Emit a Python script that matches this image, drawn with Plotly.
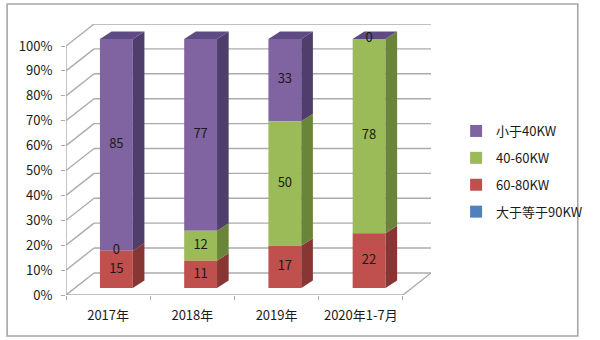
import plotly.graph_objects as go

# ---- data -------------------------------------------------------------
categories = ["2017年", "2018年", "2019年", "2020年1-7月"]
under_40kw = [85, 77, 33, 0]
kw_40_60 = [0, 12, 50, 78]
kw_60_80 = [15, 11, 17, 22]
over_90kw = [0, 0, 0, 0]
pct_ticks = list(range(0, 101, 10))

# series from the bottom of the stack to the top: name, values, front/side/top colours, labelled
stack = [
    ("大于等于90KW", over_90kw, "#4F81BD", "#3A6090", "#44709F", False),
    ("60-80KW", kw_60_80, "#C0504D", "#883634", "#A24341", True),
    ("40-60KW", kw_40_60, "#9BBB59", "#6A853A", "#7F9C45", True),
    ("小于40KW", under_40kw, "#8064A2", "#4F3D6B", "#5E4A85", True),
]

# ---- oblique projection, in axis units ---------------------------------
WALL_DX, WALL_DY = 0.333, 8.85      # front plane -> back wall
FACE_DX, FACE_DY = 0.098, 2.8       # front plane -> bar front face
DEPTH_DX, DEPTH_DY = 0.138, 3.0     # bar front face -> bar back face
BAR_W = 0.39
X0, X1 = -0.5, len(categories) - 0.5

GRID = "#ABABAB"
TEXT = "#1A1A1A"
FONT = "Noto Sans CJK SC"

fig = go.Figure()

# walls: gridlines run across the left wall and along the back wall
shapes = []
for v in pct_ticks:
    shapes.append(dict(type="line", x0=X0, y0=v, x1=X0 + WALL_DX, y1=v + WALL_DY))
    shapes.append(dict(type="line", x0=X0 + WALL_DX, y0=v + WALL_DY, x1=X1 + WALL_DX, y1=v + WALL_DY))
# floor edges and the value axis line
shapes.append(dict(type="line", x0=X0, y0=0, x1=X1, y1=0))
shapes.append(dict(type="line", x0=X1, y0=0, x1=X1 + WALL_DX, y1=WALL_DY))
shapes.append(dict(type="line", x0=X0, y0=0, x1=X0, y1=100))
for s in shapes:
    s.update(xref="x", yref="y", layer="below", line=dict(color=GRID, width=1.4))

# outer frame of the chart
shapes.append(dict(type="rect", xref="paper", yref="paper",
                   x0=(5 - 66) / 378, x1=(596 - 66) / 378,
                   y0=(295 - 336) / 271, y1=(295 - 4) / 271,
                   line=dict(color="#A6A6A6", width=1.6), layer="below"))

# front faces of the stacked bars
bases = [0.0] * len(categories)
segments = []
for name, vals, front, side, top, labelled in stack:
    segments.append((name, vals, list(bases), front, side, top, labelled))
    bases = [b + v for b, v in zip(bases, vals)]

for name, vals, base, front, side, top, labelled in reversed(segments):
    fig.add_trace(go.Bar(
        x=[i + FACE_DX for i in range(len(categories))],
        y=vals,
        base=[b + FACE_DY for b in base],
        width=BAR_W,
        name=name,
        marker=dict(color=front, line=dict(width=0)),
        hoverinfo="skip",
    ))

# side faces of every segment
for name, vals, base, front, side, top, labelled in segments:
    for i, (v, b) in enumerate(zip(vals, base)):
        if v <= 0:
            continue
        xr = i + FACE_DX + BAR_W / 2
        y0 = b + FACE_DY
        fig.add_trace(go.Scatter(
            x=[xr, xr, xr + DEPTH_DX, xr + DEPTH_DX, xr],
            y=[y0, y0 + v, y0 + v + DEPTH_DY, y0 + DEPTH_DY, y0],
            fill="toself", fillcolor=side, mode="none",
            showlegend=False, hoverinfo="skip",
        ))

# top face of each stack, in the colour of the uppermost series
top_colour = segments[-1][5]
for i, total in enumerate(bases):
    xl = i + FACE_DX - BAR_W / 2
    xr = i + FACE_DX + BAR_W / 2
    y0 = total + FACE_DY
    fig.add_trace(go.Scatter(
        x=[xl, xr, xr + DEPTH_DX, xl + DEPTH_DX, xl],
        y=[y0, y0, y0 + DEPTH_DY, y0 + DEPTH_DY, y0],
        fill="toself", fillcolor=top_colour, mode="none",
        showlegend=False, hoverinfo="skip",
    ))

# value labels in the middle of each front face
lx, ly, lt = [], [], []
for name, vals, base, front, side, top, labelled in segments:
    if not labelled:
        continue
    for i, (v, b) in enumerate(zip(vals, base)):
        lx.append(i + FACE_DX)
        ly.append(b + FACE_DY + v / 2)
        lt.append(str(v))
fig.add_trace(go.Scatter(
    x=lx, y=ly, text=lt, mode="text",
    textfont=dict(family=FONT, size=13, color=TEXT),
    showlegend=False, hoverinfo="skip",
))

fig.update_layout(
    width=600, height=340,
    margin=dict(l=66, r=156, t=24, b=45),
    paper_bgcolor="white", plot_bgcolor="white",
    barmode="overlay",
    shapes=shapes,
    font=dict(family=FONT, size=13, color=TEXT),
    showlegend=True,
    legend=dict(
        x=(470 - 66) / 378, y=(295 - 116) / 271, xanchor="left", yanchor="top",
        traceorder="grouped", tracegroupgap=7,
        font=dict(family=FONT, size=13, color=TEXT),
        itemwidth=30, bgcolor="rgba(0,0,0,0)",
    ),
    xaxis=dict(
        range=[X0, X1 + WALL_DX], showgrid=False, zeroline=False, showline=False,
        tickmode="array", tickvals=list(range(len(categories))), ticktext=categories,
        ticks="", ticklabelstandoff=11,
        tickfont=dict(family=FONT, size=13, color=TEXT),
        minor=dict(tickmode="array",
                   tickvals=[k - 0.5 for k in range(len(categories) + 1)],
                   ticks="outside", ticklen=4, tickcolor=GRID, tickwidth=1.4),
        fixedrange=True,
    ),
    yaxis=dict(
        range=[0, 100 + WALL_DY], showgrid=False, zeroline=False, showline=False,
        tickmode="array", tickvals=pct_ticks, ticktext=[f"{v}%" for v in pct_ticks],
        ticks="outside", ticklen=4, tickcolor=GRID, tickwidth=1.4,
        tickfont=dict(family=FONT, size=13, color=TEXT),
        ticklabelstandoff=6, fixedrange=True,
    ),
)

# give each legend entry its own group so the gap spaces the rows out
for k, tr in enumerate(fig.data):
    if isinstance(tr, go.Bar):
        tr.legendgroup = f"g{k}"

fig.write_html("out.html")
